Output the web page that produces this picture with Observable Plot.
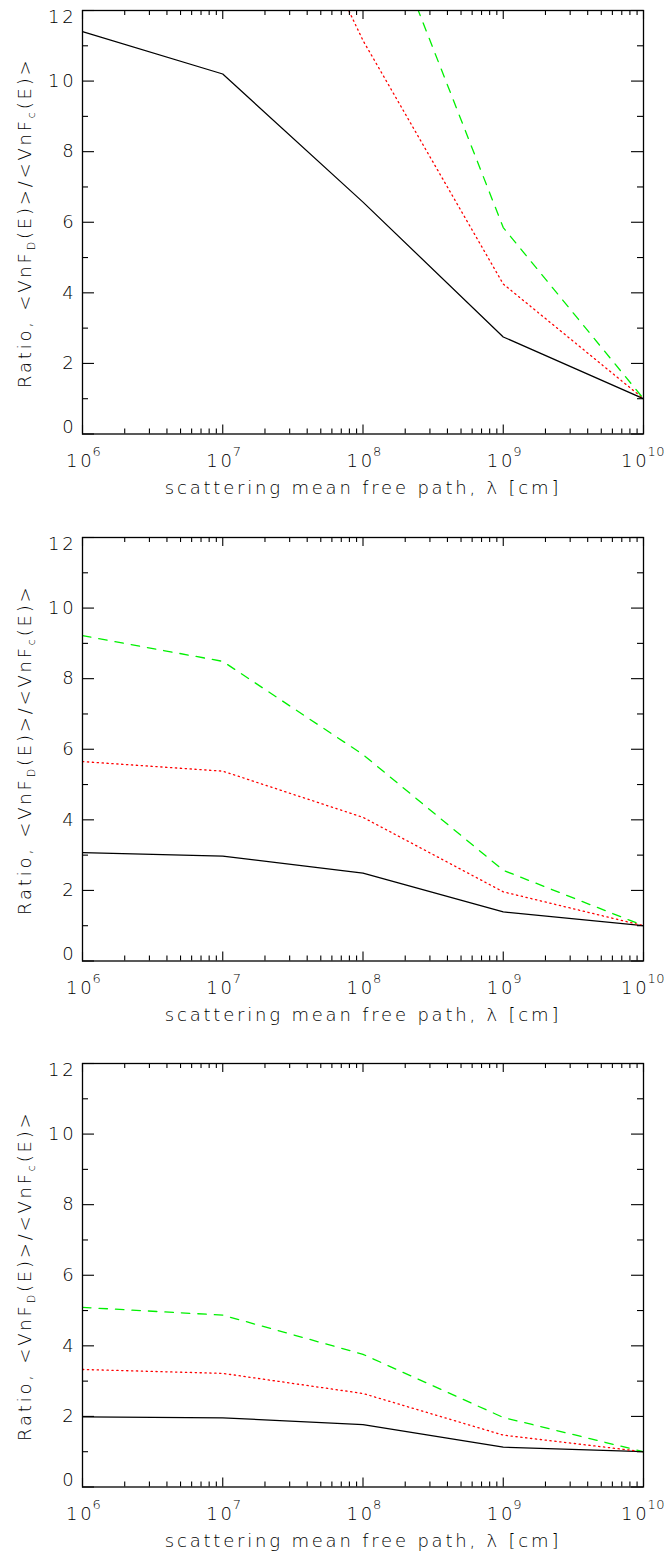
<!DOCTYPE html>
<html>
<head>
<meta charset="utf-8">
<script src="https://cdn.jsdelivr.net/npm/d3@7"></script>
<script src="https://cdn.jsdelivr.net/npm/@observablehq/plot@0.6"></script>
<style>
  html, body { margin: 0; padding: 0; background: #fff; }
  #charts svg { display: block; }
</style>
</head>
<body>
<div id="charts"></div>
<script>
// ---- data ----
const lambda = [1e6, 1e7, 1e8, 1e9, 1e10];

const panel1Black = [11.4, 10.2, 6.57, 2.75, 1.0];
const panel1Red   = [null, 19.5, 11.15, 4.25, 1.0];
const panel1Green = [null, null, 16.0, 5.85, 1.0];

const panel2Black = [3.07, 2.97, 2.49, 1.39, 1.0];
const panel2Red   = [5.65, 5.38, 4.07, 1.96, 1.0];
const panel2Green = [9.22, 8.49, 5.85, 2.57, 1.0];

const panel3Black = [1.99, 1.96, 1.77, 1.13, 1.0];
const panel3Red   = [3.33, 3.22, 2.65, 1.47, 1.0];
const panel3Green = [5.09, 4.87, 3.76, 1.97, 1.0];

const xMajorTicks = [1e6, 1e7, 1e8, 1e9, 1e10];
const xExponents = ["6", "7", "8", "9", "10"];
const xMinorTicks = [1e6, 1e7, 1e8, 1e9].flatMap(d => [2,3,4,5,6,7,8,9].map(m => m * d));
const yMajorTicks = [0, 2, 4, 6, 8, 10, 12];
const yMinorTicks = [1, 3, 5, 7, 9, 11];
const xTitle = "scattering mean free path, λ [cm]";

const panels = [
  {black: panel1Black, red: panel1Red, green: panel1Green, height: 527},
  {black: panel2Black, red: panel2Red, green: panel2Green, height: 526},
  {black: panel3Black, red: panel3Red, green: panel3Green, height: 501}
];

// ---- layout ----
const W = 668, ML = 82, MR = 25, MT = 10, FH = 423.5;
const FW = W - ML - MR;
const FONT = "'DejaVu Sans', Verdana, sans-serif";
const FS = 18, LS = 2.8;

const root = document.getElementById("charts");

for (const p of panels) {
  const rows = [];
  lambda.forEach((x, i) => {
    rows.push({x, y: p.black[i], s: "black"});
    rows.push({x, y: p.red[i], s: "red"});
    rows.push({x, y: p.green[i], s: "green"});
  });
  const series = s => rows.filter(r => r.s === s && r.y != null);
  const tickLabels = xMajorTicks.map((x, i) => ({x, e: xExponents[i]}));
  const shortLabels = tickLabels.filter(d => d.e.length === 1);
  const longLabels = tickLabels.filter(d => d.e.length > 1);
  const txt = {fill: "#000", fontSize: FS, fontWeight: 200};
  const base = {x: "x", text: () => "10", frameAnchor: "bottom", textAnchor: "end", lineAnchor: "bottom", dy: 33, ...txt};
  const expo = {x: "x", text: "e", frameAnchor: "bottom", textAnchor: "start", lineAnchor: "bottom", dy: 22, ...txt, fontSize: 13, className: "expo"};

  const svg = Plot.plot({
    width: W,
    height: p.height,
    marginLeft: ML,
    marginRight: MR,
    marginTop: MT,
    marginBottom: p.height - MT - FH,
    style: {fontFamily: FONT, fontSize: FS + "px", background: "#fff", color: "#000"},
    x: {type: "log", domain: [1e6, 1e10], axis: null},
    y: {domain: [0, 12], axis: null},
    marks: [
      // data lines
      Plot.line(series("black"), {x: "x", y: "y", stroke: "#000", strokeWidth: 1.25, clip: true}),
      Plot.line(series("red"), {x: "x", y: "y", stroke: "#ff0000", strokeWidth: 1.3, strokeDasharray: "1.3,3.6", clip: true}),
      Plot.line(series("green"), {x: "x", y: "y", stroke: "#00f000", strokeWidth: 1.3, strokeDasharray: "8.5,8", clip: true}),
      // inward ticks: bottom & top
      Plot.tickX(xMajorTicks, {x: d => d, stroke: "#000", strokeWidth: 1.1, insetTop: FH - 9}),
      Plot.tickX(xMinorTicks, {x: d => d, stroke: "#000", strokeWidth: 1.1, insetTop: FH - 5}),
      Plot.tickX(xMajorTicks, {x: d => d, stroke: "#000", strokeWidth: 1.1, insetBottom: FH - 9}),
      Plot.tickX(xMinorTicks, {x: d => d, stroke: "#000", strokeWidth: 1.1, insetBottom: FH - 5}),
      // inward ticks: left & right
      Plot.tickY(yMajorTicks, {y: d => d, stroke: "#000", strokeWidth: 1.1, insetRight: FW - 12}),
      Plot.tickY(yMinorTicks, {y: d => d, stroke: "#000", strokeWidth: 1.1, insetRight: FW - 6}),
      Plot.tickY(yMajorTicks, {y: d => d, stroke: "#000", strokeWidth: 1.1, insetLeft: FW - 12}),
      Plot.tickY(yMinorTicks, {y: d => d, stroke: "#000", strokeWidth: 1.1, insetLeft: FW - 6}),
      // x tick labels: "10" plus superscript exponent, whole label centred on the tick
      Plot.text(shortLabels, {...base, dx: 12}),
      Plot.text(shortLabels, {...expo, dx: 10}),
      Plot.text(longLabels, {...base, dx: 6}),
      Plot.text(longLabels, {...expo, dx: 4}),
      // y tick labels (end labels nudged inside, as in the original)
      Plot.text(yMajorTicks.filter(d => d > 0 && d < 12), {y: d => d, text: d => String(d), frameAnchor: "left", textAnchor: "end", lineAnchor: "middle", dx: -6, ...txt}),
      Plot.text([0], {y: d => d, text: d => String(d), frameAnchor: "left", textAnchor: "end", lineAnchor: "middle", dx: -6, dy: -7, ...txt}),
      Plot.text([12], {y: d => d, text: d => String(d), frameAnchor: "left", textAnchor: "end", lineAnchor: "middle", dx: -6, dy: 7, ...txt}),
      // x title
      Plot.text([xTitle], {frameAnchor: "bottom", dy: 60, text: d => d, lineAnchor: "bottom", ...txt}),
      Plot.frame({stroke: "#000", strokeWidth: 1.3})
    ]
  });

  // y title with subscripts
  const t = d3.select(svg).append("text")
    .attr("transform", `translate(31, ${MT + FH / 2 + 1}) rotate(-90)`)
    .attr("text-anchor", "middle")
    .attr("font-family", FONT)
    .attr("font-size", FS)
    .attr("font-weight", 200)
    .attr("fill", "#000");
  t.append("tspan").text("Ratio, <VnF");
  t.append("tspan").attr("font-size", 11).attr("dy", 4).text("D");
  t.append("tspan").attr("dy", -4).text("(E)>/<VnF");
  t.append("tspan").attr("font-size", 11).attr("dy", 4).text("c");
  t.append("tspan").attr("dy", -4).text("(E)>");

  d3.select(svg).selectAll("text").attr("letter-spacing", LS);
  d3.select(svg).selectAll(".expo text").attr("letter-spacing", 0.5);
  root.appendChild(svg);
}
</script>
</body>
</html>
